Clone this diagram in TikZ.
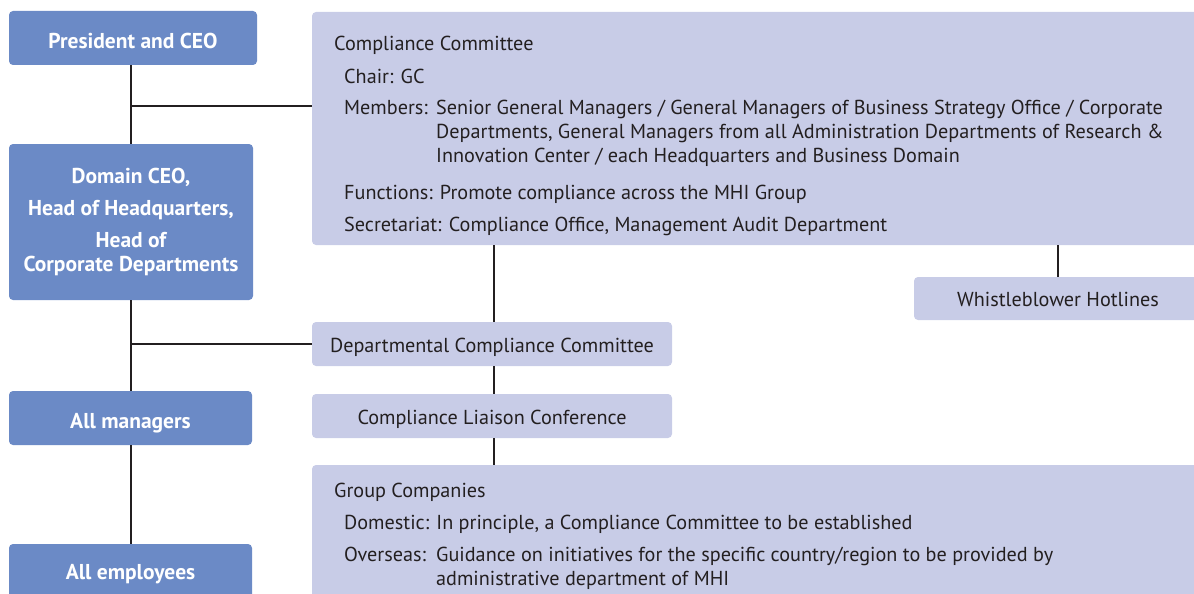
\documentclass[tikz,border=0pt]{standalone}
\usepackage{fontspec}
\setmainfont{PT Sans}
\usetikzlibrary{calc}
\definecolor{headblue}{RGB}{107,138,198}
\definecolor{panel}{RGB}{200,204,231}
\definecolor{ink}{RGB}{35,31,32}
\begin{document}
\begin{tikzpicture}[x=1pt,y=-1pt]
        \tikzstyle{role}=[rectangle,rounded corners=4pt,fill=headblue,text=white,font=\bfseries\fontsize{21.5}{24}\selectfont,align=center,inner sep=0pt]
        \tikzstyle{oneline}=[text height=21pt,text depth=0pt]
        \tikzstyle{panelbox}=[rectangle,rounded corners=4pt,fill=panel,inner sep=0pt,text=ink,font=\fontsize{20.2}{24}\selectfont,text height=16pt,text depth=0pt]
        \tikzstyle{line}=[anchor=base west,inner sep=0pt,text=ink,font=\fontsize{20.2}{24}\selectfont]
        \tikzstyle{link}=[draw=ink,line width=2pt]
        \useasboundingbox (0,0) rectangle (1194,594);
        % left column
        \node [role,oneline,minimum width=248,minimum height=54] (ceo) at (133,38) {President and CEO};
        \node [role,minimum width=244,minimum height=156] (dom) at (131,222) {Domain CEO,\\[8pt] Head of Headquarters,\\[8pt] Head of\\ Corporate Departments};
        \node [role,oneline,minimum width=243,minimum height=54] (mgr) at (130.5,418) {All managers};
        \node [role,oneline,text height=11pt,minimum width=243,minimum height=60] (emp) at (130.5,574) {All employees};
        % right column
        \node [panelbox,minimum width=898,minimum height=233] (cc) at (761,128.5) {};
        \node [panelbox,minimum width=288,minimum height=43] (hot) at (1058,298.5) {Whistleblower Hotlines};
        \node [panelbox,minimum width=360,minimum height=44] (dept) at (492,344) {Departmental Compliance Committee};
        \node [panelbox,minimum width=360,minimum height=44] (liaison) at (492,416) {Compliance Liaison Conference};
        \node [panelbox,minimum width=898,minimum height=145] (grp) at (761,537.5) {};
        % committee text
        \node [line] (cctitle) at (334,51) {Compliance Committee};
        \node [line] (chair) at (344,83) {Chair: GC};
        \node [line] (members) at (344,114) {Members:};
        \node [line] (mem1) at (436,114) {Senior General Managers / General Managers of Business Strategy Office / Corporate};
        \node [line] (mem2) at (436,138) {Departments, General Managers from all Administration Departments of Research \&};
        \node [line] (mem3) at (436,162) {Innovation Center / each Headquarters and Business Domain};
        \node [line] (func) at (344,199) {Functions: Promote compliance across the MHI Group};
        \node [line] (secr) at (344,231) {Secretariat: Compliance Office, Management Audit Department};
        % group text
        \node [line] (grptitle) at (334,497) {Group Companies};
        \node [line] (dom1) at (344,529) {Domestic: In principle, a Compliance Committee to be established};
        \node [line] (ovs) at (344,561) {Overseas:};
        \node [line] (ovs1) at (436,561) {Guidance on initiatives for the specific country/region to be provided by};
        \node [line] (ovs2) at (436,585) {administrative department of MHI};
        % connectors
        \path[link] (ceo.south -| dom) -- (dom.north);
        \path[link] (dom.south) -- (mgr.north -| dom);
        \path[link] (mgr.south -| dom) -- (emp.north -| dom);
        \path[link] ($(ceo.south -| dom)!.52!(dom.north)$) coordinate (j1) -- (j1 -| cc.west);
        \path[link] (dept.west -| dom) -- (dept.west);
        \path[link] ([xshift=2pt]cc.south -| dept) -- ([xshift=2pt]dept.north);
        \path[link] ([xshift=2pt]dept.south) -- ([xshift=2pt]liaison.north);
        \path[link] ([xshift=2pt]liaison.south) -- ([xshift=2pt]grp.north -| liaison);
        \path[link] (cc.south -| hot) -- (hot.north);
\end{tikzpicture}
\end{document}
